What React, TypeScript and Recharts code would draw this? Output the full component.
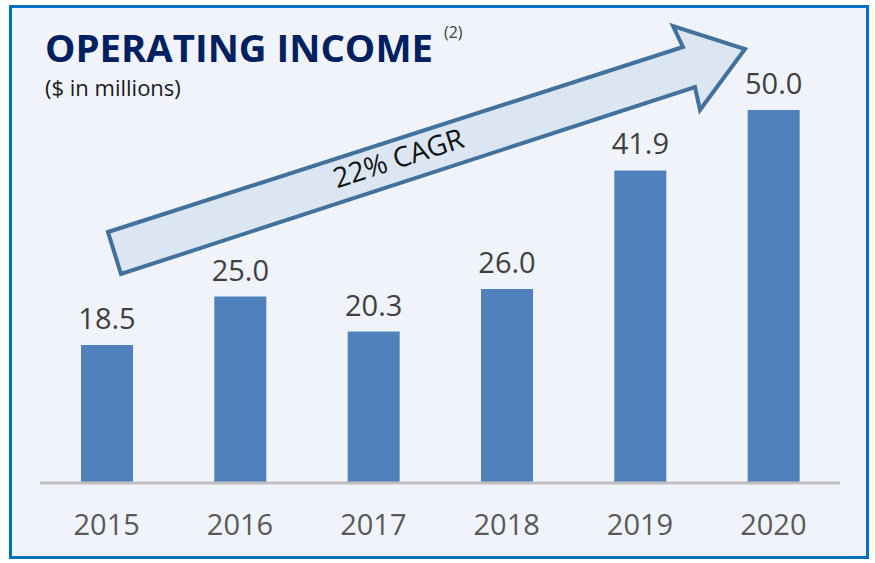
import { BarChart, Bar, XAxis, YAxis, LabelList } from 'recharts'

const years = ['2015', '2016', '2017', '2018', '2019', '2020']
const income = [18.5, 25.0, 20.3, 26.0, 41.9, 50.0]
const yDomain = [0, 50]

const chartData = years.map((year, i) => ({ year, income: income[i] }))

const FONT = "'Open Sans', sans-serif"

export default function App() {
  return (
    <div style={{ position: 'absolute', left: 0, top: 0, width: 875, height: 563, background: '#ffffff' }}>
      {/* frame */}
      <div
        style={{
          position: 'absolute',
          left: 9,
          top: 5,
          width: 860,
          height: 554,
          boxSizing: 'border-box',
          border: '3px solid #0070c0',
          background: '#f0f4fa',
        }}
      />
      <div style={{ position: 'absolute', left: 0, top: 0 }}>
        <BarChart
          width={875}
          height={563}
          data={chartData}
          margin={{ top: 110, right: 35, bottom: 20, left: 40 }}
          barCategoryGap={0}
        >
          <XAxis
            dataKey="year"
            height={60}
            axisLine={{ stroke: '#bfbfbf', strokeWidth: 3 }}
            tickLine={false}
            tickMargin={25}
            tick={{ fontSize: 29, fill: '#595959', fontFamily: FONT }}
          />
          <YAxis hide domain={yDomain} />
          <Bar dataKey="income" fill="#4f81bd" barSize={52} isAnimationActive={false}>
            <LabelList
              dataKey="income"
              position="top"
              offset={16}
              formatter={(v: number) => v.toFixed(1)}
              style={{ fontSize: 29, fill: '#404040', fontFamily: FONT }}
            />
          </Bar>
        </BarChart>
      </div>
      {/* title and growth arrow */}
      <svg
        width={875}
        height={563}
        style={{ position: 'absolute', left: 0, top: 0, pointerEvents: 'none' }}
      >
        <text
          x={45}
          y={62}
          fontFamily={FONT}
          fontWeight="bold"
          fontSize={38}
          fill="#002060"
          textLength={388}
          lengthAdjust="spacingAndGlyphs"
        >
          OPERATING INCOME
        </text>
        <text x={444} y={38} fontFamily={FONT} fontSize={16} fill="#404040">
          (2)
        </text>
        <text x={45} y={96} fontFamily={FONT} fontSize={22} fill="#1a1a1a">
          ($ in millions)
        </text>
        <polygon
          points="108,232 683,47 673,26 745,49 700,110 695,87 121,274"
          fill="#dce6f2"
          stroke="#41719c"
          strokeWidth={4}
          strokeLinejoin="miter"
        />
        <text
          x={398}
          y={157}
          textAnchor="middle"
          dominantBaseline="central"
          transform="rotate(-18 398 157)"
          fontFamily={FONT}
          fontSize={28}
          fill="#111111"
        >
          22% CAGR
        </text>
      </svg>
    </div>
  )
}
